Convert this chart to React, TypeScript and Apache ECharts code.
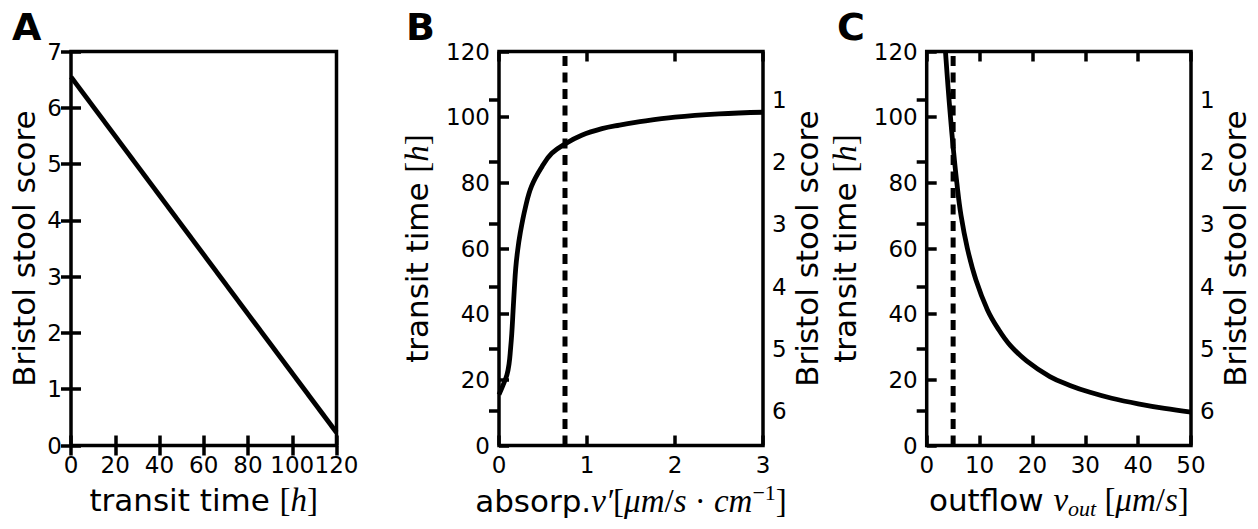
import React, { useEffect, useRef } from "react";
import * as echarts from "echarts";

// Panel A: Bristol stool score against transit time (straight line)
const transitHours = [0, 120];
const bristolLine = [6.55, 0.23];

// Panel B: transit time against absorption velocity v'
const absorpX = [0, 0.04, 0.09, 0.115, 0.13, 0.145, 0.16, 0.175, 0.19, 0.21, 0.24, 0.3, 0.37, 0.49, 0.6, 0.76, 0.94, 1.17, 1.37, 1.55, 2.0, 2.5, 3.0];
const absorpHours = [15.5, 18, 21.5, 25, 29, 34, 41, 48, 54, 59, 64.5, 72.5, 79, 85, 89, 92, 94.5, 96.5, 97.6, 98.4, 100, 101, 101.5];
const absorpMarker = 0.75;

// Panel C: transit time against outflow velocity v_out
const outflowX = [3.55, 4.0, 4.5, 5.0, 5.7, 6.5, 7.7, 9.3, 11.5, 13.5, 15.8, 18.9, 23.3, 27.1, 30.9, 35, 40, 45, 50];
const outflowHours = [120, 110, 100, 91, 80, 70, 60, 50.5, 41.3, 35.6, 30.5, 25.8, 21, 18.3, 16.2, 14.4, 12.7, 11.3, 10.2];
const outflowMarker = 5;

// Secondary Bristol scale (score at 0 h and at 120 h) and its ticks
const bristolAtZeroHours = 6.55;
const bristolAtMaxHours = 0.23;
const bristolTicks = [1, 2, 3, 4, 5, 6];

const panelLetters = ["A", "B", "C"];

const SANS = "DejaVu Sans";
const SERIF = "Liberation Serif";
const BLACK = "#000";

const mathRich = {
  s: { fontFamily: SANS, fontSize: 31, color: BLACK, lineHeight: 40 },
  u: { fontFamily: SERIF, fontSize: 33, color: BLACK, lineHeight: 40 },
  i: { fontFamily: SERIF, fontStyle: "italic", fontSize: 33, color: BLACK, lineHeight: 40 },
  sup: { fontFamily: SERIF, fontSize: 22, color: BLACK, lineHeight: 22, verticalAlign: "top" },
  sub: { fontFamily: SERIF, fontStyle: "italic", fontSize: 22, color: BLACK, lineHeight: 22, verticalAlign: "bottom" },
};

const nameStyle = { fontFamily: SANS, fontSize: 31, color: BLACK, rich: mathRich };
const labelStyle = { fontFamily: SANS, fontSize: 23, color: BLACK, hideOverlap: false };
const tickStyle = { show: true, inside: true, length: 10, lineStyle: { color: BLACK, width: 3.5 } };

function zip(xs: number[], ys: number[]) {
  return xs.map((x, i) => [x, ys[i]]);
}

function bottomAxis(grid: number, min: number, max: number, interval: number, name: string, gap: number) {
  return {
    type: "value",
    gridIndex: grid,
    position: "bottom",
    min,
    max,
    interval,
    name,
    nameLocation: "middle",
    nameGap: gap,
    nameTextStyle: nameStyle,
    axisLine: { show: false },
    axisTick: tickStyle,
    axisLabel: { ...labelStyle, margin: 8, showMinLabel: true, showMaxLabel: true },
    splitLine: { show: false },
  };
}

function topAxis(grid: number, min: number, max: number, interval: number) {
  return {
    type: "value",
    gridIndex: grid,
    position: "top",
    min,
    max,
    interval,
    axisLine: { show: false },
    axisTick: tickStyle,
    axisLabel: { show: false },
    splitLine: { show: false },
  };
}

function leftAxis(grid: number, min: number, max: number, interval: number, name: string, gap: number) {
  return {
    type: "value",
    gridIndex: grid,
    position: "left",
    min,
    max,
    interval,
    name,
    nameLocation: "middle",
    nameRotate: 90,
    nameGap: gap,
    nameTextStyle: nameStyle,
    axisLine: { show: false },
    axisTick: tickStyle,
    axisLabel: { ...labelStyle, margin: 9 },
    splitLine: { show: false },
  };
}

function bristolAxis(grid: number, gap: number) {
  return {
    type: "value",
    gridIndex: grid,
    position: "right",
    inverse: true,
    min: bristolAtMaxHours,
    max: bristolAtZeroHours,
    name: "Bristol stool score",
    nameLocation: "middle",
    nameRotate: 90,
    nameGap: gap,
    nameTextStyle: nameStyle,
    axisLine: { show: false },
    axisTick: { ...tickStyle, customValues: bristolTicks },
    axisLabel: { ...labelStyle, margin: 9, customValues: bristolTicks },
    splitLine: { show: false },
  };
}

const hoursName = "{s|transit time }{u|[}{i|h}{u|]}";
const absorpName = "{s|absorp.}{i|v′}{u|[}{i|μm}{u|/}{i|s}{u| · }{i|cm}{sup|−1}{u|]}";
const outflowName = "{s|outflow }{i|v}{sub|out}{u| [}{i|μm}{u|/}{i|s}{u|]}";

export default function App() {
  const ref = useRef<HTMLDivElement>(null);

  useEffect(() => {
    if (!ref.current) return;
    const chart = echarts.init(ref.current, null, { renderer: "svg" });

    const gridBase = {
      show: true,
      top: 51.5,
      height: 394,
      borderColor: BLACK,
      borderWidth: 3.5,
      backgroundColor: "transparent",
      containLabel: false,
      outerBoundsMode: "none",
    };

    const curve = (x: number, y: number, data: number[][]) => ({
      type: "line",
      xAxisIndex: x,
      yAxisIndex: y,
      data,
      showSymbol: false,
      smooth: 0.4,
      lineStyle: { color: BLACK, width: 4.8 },
      z: 4,
    });

    const marker = (x: number, y: number, at: number) => ({
      type: "line",
      xAxisIndex: x,
      yAxisIndex: y,
      data: [
        [at, 0],
        [at, 120],
      ],
      showSymbol: false,
      lineStyle: { color: BLACK, width: 5, type: [10, 6.5], cap: "butt" },
      z: 3,
    });

    const option = {
      animation: false,
      backgroundColor: "#fff",
      textStyle: { fontFamily: SANS },
      graphic: panelLetters.map((letter, i) => ({
        type: "text",
        x: [12, 406, 837][i],
        y: 8,
        style: { text: letter, font: `bold 38px '${SANS}'`, fill: BLACK },
      })),
      grid: [
        { ...gridBase, left: 71, width: 265.5 },
        { ...gridBase, left: 499, width: 264 },
        { ...gridBase, left: 926.7, width: 264.3 },
      ],
      xAxis: [
        bottomAxis(0, 0, 120, 20, hoursName, 34),
        topAxis(0, 0, 120, 20),
        bottomAxis(1, 0, 3, 1, absorpName, 34),
        topAxis(1, 0, 3, 1),
        bottomAxis(2, 0, 50, 10, outflowName, 34),
        topAxis(2, 0, 50, 10),
      ],
      yAxis: [
        leftAxis(0, 0, 7, 1, "Bristol stool score", 32),
        { ...topAxis(0, 0, 7, 1), position: "right" },
        leftAxis(1, 0, 120, 20, hoursName, 62),
        bristolAxis(1, 28),
        leftAxis(2, 0, 120, 20, hoursName, 62),
        bristolAxis(2, 28),
      ],
      series: [
        curve(0, 0, zip(transitHours, bristolLine)),
        marker(2, 2, absorpMarker),
        curve(2, 2, zip(absorpX, absorpHours)),
        marker(4, 4, outflowMarker),
        curve(4, 4, zip(outflowX, outflowHours)),
      ],
    };

    chart.setOption(option as any);
    return () => chart.dispose();
  }, []);

  return (
    <div
      ref={ref}
      style={{ position: "fixed", left: 0, top: 0, width: 1258, height: 529, background: "#fff" }}
    />
  );
}
